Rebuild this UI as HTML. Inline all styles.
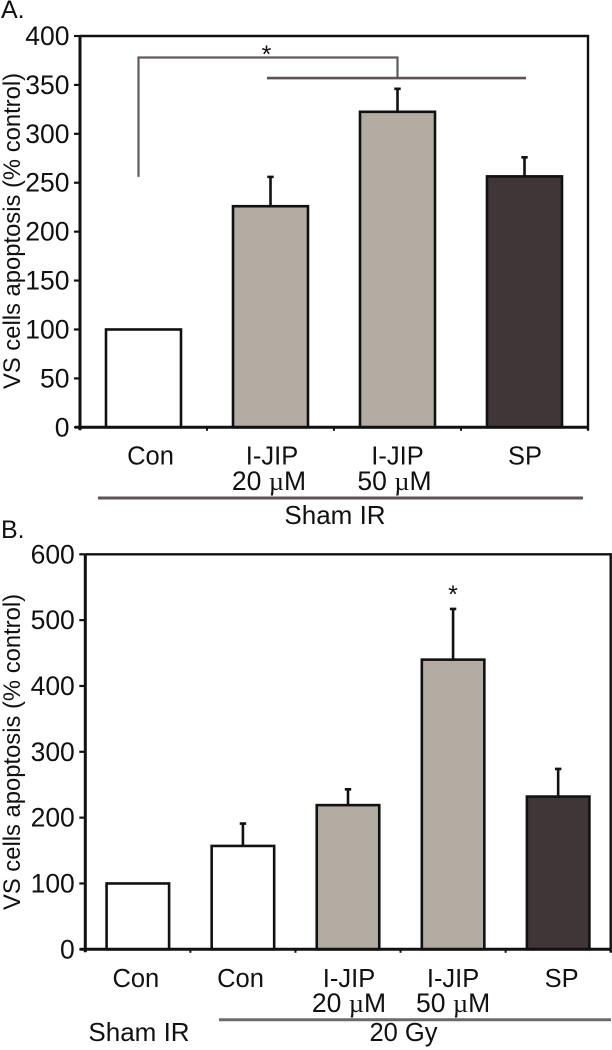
<!DOCTYPE html>
<html lang="en">
<head>
<meta charset="utf-8">
<title>VS cells apoptosis</title>
<style>
html,body{margin:0;padding:0;background:#fff;width:612px;height:1050px;overflow:hidden}
svg{display:block}
text{font-family:"Liberation Sans",sans-serif;fill:#111}
</style>
</head>
<body>
<svg id="figure" xmlns="http://www.w3.org/2000/svg" width="612" height="1050" viewBox="0 0 612 1050"></svg>
<script>
// Panel A data
const categoriesA = [["Con"], ["I-JIP", "20 µM"], ["I-JIP", "50 µM"], ["SP"]];
const valuesA = [100, 226, 322.5, 256.5];
const errorsA = [0, 30, 23.5, 19.5];
const ticksA = [0, 50, 100, 150, 200, 250, 300, 350, 400];
const fillsA = ["white", "taupe", "taupe", "dark"];

// Panel B data
const categoriesB = [["Con"], ["Con"], ["I-JIP", "20 µM"], ["I-JIP", "50 µM"], ["SP"]];
const valuesB = [100, 157, 219, 440, 232];
const errorsB = [0, 34, 24, 77, 42];
const ticksB = [0, 100, 200, 300, 400, 500, 600];
const fillsB = ["white", "white", "taupe", "taupe", "dark"];

const palette = {white: "#ffffff", taupe: "#b3aca2", dark: "#403638"};
const svg = document.getElementById("figure");
const NS = "http://www.w3.org/2000/svg";

function add(parent, tag, attrs, content) {
  const el = document.createElementNS(NS, tag);
  for (const k in attrs) el.setAttribute(k, attrs[k]);
  if (content !== undefined) el.textContent = content;
  parent.appendChild(el);
  return el;
}

function addLabel(parent, x, y, str, size, anchor) {
  const t = add(parent, "text", {x: x, y: y, "font-size": size, "text-anchor": anchor || "middle"});
  const parts = str.split("µ");
  if (parts.length === 2) {
    add(t, "tspan", {}, parts[0]);
    add(t, "tspan", {style: 'font-family:"Liberation Serif",serif'}, "µ");
    add(t, "tspan", {}, parts[1]);
  } else {
    t.textContent = str;
  }
  return t;
}

function drawPanel(cfg) {
  const g = add(svg, "g", {});
  
  
  const maxTick = cfg.ticks[cfg.ticks.length - 1];
  const y = v => cfg.bottom - (v / maxTick) * (cfg.bottom - cfg.top);
  const step = (cfg.right - cfg.left) / cfg.categories.length;
  const x = i => cfg.left + step * (i + 0.5);

  // frame
  const frame = add(g, "path", {
    d: `M${cfg.left} ${cfg.top}H${cfg.right}V${cfg.bottom + 3}`,
    fill: "none", stroke: "#111", "stroke-width": 2.4
  });
  
  

  // bars and error bars
  cfg.values.forEach((v, i) => {
    if (cfg.errors[i] > 0) {
      const err = add(g, "path", {
        d: `M${x(i)} ${y(v)}V${y(v + cfg.errors[i])}M${x(i) - 3.2} ${y(v + cfg.errors[i])}h6.4`,
        fill: "none", stroke: "#111", "stroke-width": 2.6
      });
      
      
    }
    const bar = add(g, "rect", {
      x: x(i) - cfg.barWidth / 2, y: y(v),
      width: cfg.barWidth, height: y(0) - y(v),
      fill: palette[cfg.fills[i]], stroke: "#111", "stroke-width": 2.6
    });
    
    
  });

  // axes
  const axis = add(g, "path", {
    d: `M${cfg.left} ${cfg.top}V${cfg.bottom + 3}M${cfg.left - 5} ${cfg.bottom}H${cfg.right}`,
    fill: "none", stroke: "#111", "stroke-width": 3
  });
  
  

  // y ticks
  cfg.ticks.forEach(t => {
    const tick = add(g, "line", {x1: cfg.left - 6, x2: cfg.left, y1: y(t), y2: y(t), stroke: "#111", "stroke-width": 2.2});
    
    
    const lab = addLabel(g, cfg.left - 10.5, y(t) + 9, String(t), 26.5, "end");
    
    
  });

  // x ticks between categories
  cfg.categories.forEach((c, i) => {
    const px = cfg.left + step * (i + 1);
    const tick = add(g, "line", {x1: px, x2: px, y1: cfg.bottom, y2: cfg.bottom + 3.5, stroke: "#111", "stroke-width": 2});
    
    
  });

  // category labels
  cfg.categories.forEach((lines, i) => {
    lines.forEach((line, j) => {
      const dx = j === 0 ? cfg.labelNudge1[i] : cfg.labelNudge2[i];
      const lab = addLabel(g, x(i) + dx, (j === 0 ? cfg.labelY1 : cfg.labelY2), line, j === 0 ? 25.5 : 26.5);
      
      
    });
  });

  // y axis title
  const title = add(g, "text", {
    transform: `translate(20,${cfg.titleY}) rotate(-90)`,
    "font-size": 23.8, "text-anchor": "middle"
  }, "VS cells apoptosis (% control)");
  
  

  return {x, y, g};
}

const A = drawPanel({
  name: "panel-a", categories: categoriesA, values: valuesA, errors: errorsA,
  ticks: ticksA, fills: fillsA, left: 80, right: 588, top: 36, bottom: 427.3,
  barWidth: 75, labelNudge1: [7, 1.5, 0, 0.5], labelNudge2: [0, -1.5, -3, 0],
  labelY1: 464.5, labelY2: 490, titleY: 231
});
const B = drawPanel({
  name: "panel-b", categories: categoriesB, values: valuesB, errors: errorsB,
  ticks: ticksB, fills: fillsB, left: 85.3, right: 610.7, top: 554.3, bottom: 949.3,
  barWidth: 62.5, labelNudge1: [-2, -2.4, 1, 0, 3.5], labelNudge2: [0, 0, 1, 0, 0],
  labelY1: 987, labelY2: 1012, titleY: 752
});

// panel letters
const letterA = addLabel(svg, 1, 18, "A.", 25, "start");


const letterB = addLabel(svg, 1, 538, "B.", 25, "start");



// significance bracket, panel A
const bracket = add(svg, "path", {
  d: `M${A.x(0) - 5} ${A.y(256)}V${A.y(378)}H${A.x(2)}V${A.y(357)}`,
  fill: "none", stroke: "#625a5b", "stroke-width": 2.2
});


const groupLine = add(svg, "line", {x1: 267, x2: 526, y1: A.y(357), y2: A.y(357), stroke: "#5a5253", "stroke-width": 2.6});


const starA = addLabel(svg, 266.5, 63, "*", 25);


const starB = addLabel(svg, 453, 603, "*", 25);



// group annotations
const shamLineA = add(svg, "line", {x1: 98, x2: 583, y1: 498, y2: 498, stroke: "#5c5455", "stroke-width": 3});


const shamA = addLabel(svg, 335, 524, "Sham IR", 26);


const gyLine = add(svg, "line", {x1: 219, x2: 611, y1: 1019.7, y2: 1019.7, stroke: "#6b6b6b", "stroke-width": 3});


const shamB = addLabel(svg, 139, 1041, "Sham IR", 26);


const gy = addLabel(svg, 403.5, 1041, "20 Gy", 25.5);


</script>
</body>
</html>
